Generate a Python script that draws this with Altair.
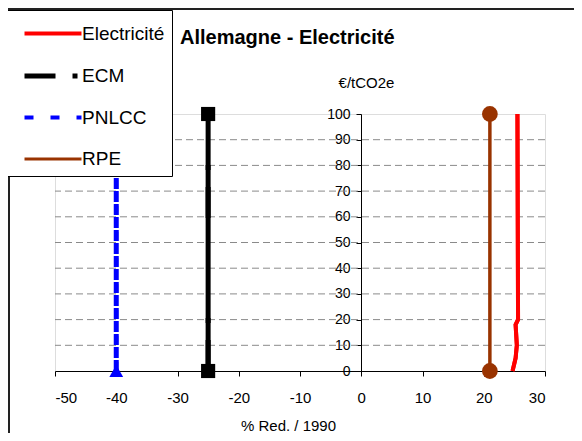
import altair as alt
import pandas as pd

FONT = "Liberation Sans"

# ---- data ----
series = ["Electricité", "ECM", "PNLCC", "RPE"]
colors = ["#FF0000", "#000000", "#0000FF", "#993300"]

elec_x = [24.7, 25.2, 25.4, 25.2, 25.6, 25.5]
elec_y = [0, 5, 10, 18, 20, 100]
ecm_x = [-25, -25]
ecm_y = [0, 100]
pnlcc_x = [-40, -40]
pnlcc_y = [0, 100]
rpe_x = [21, 21]
rpe_y = [0, 100]

x_ticks = [-50, -40, -30, -20, -10, 0, 10, 20, 30]
y_ticks = [0, 10, 20, 30, 40, 50, 60, 70, 80, 90, 100]
grid_y = [10, 20, 30, 40, 50, 60, 70, 80, 90]

# ---- tables ----
rows = []
for name, xs, ys in [("Electricité", elec_x, elec_y), ("ECM", ecm_x, ecm_y),
                     ("PNLCC", pnlcc_x, pnlcc_y), ("RPE", rpe_x, rpe_y)]:
    for i, (xv, yv) in enumerate(zip(xs, ys)):
        rows.append({"series": name, "x": xv, "y": yv, "idx": i})
df = pd.DataFrame(rows)

color_of = dict(zip(series, colors))
marker_series = ["ECM", "PNLCC", "RPE"]
mk = df[df.series.isin(marker_series)].copy()
mk["hex"] = mk.series.map(color_of)

grid_df = pd.DataFrame({"y": grid_y})
frame_df = pd.DataFrame({"a": [0]})

xscale = alt.Scale(domain=[-50, 30], nice=False, zero=False)
yscale = alt.Scale(domain=[0, 100], nice=False, zero=False)
color_scale = alt.Scale(domain=series, range=colors)
width_scale = alt.Scale(type="ordinal", domain=series, range=[4, 5, 4, 3])

xaxis = alt.Axis(values=x_ticks, labelExpr="'' + datum.value", grid=False,
                 labelOverlap=False,
                 domainColor="black", tickColor="black", tickSize=5,
                 labelFontSize=15, labelPadding=14, labelColor="black",
                 labelFont=FONT, title="% Red. / 1990", titleFont=FONT,
                 titleFontSize=15, titleFontWeight="normal", titleColor="black",
                 titleX=233, titleY=59, titleAlign="center",
                 titleBaseline="alphabetic")
yaxis = alt.Axis(values=y_ticks, grid=False, offset=-306, labelOverlap=False,
                 domainColor="black", tickColor="black", tickSize=5,
                 labelFontSize=14, labelPadding=6, labelColor="black",
                 labelFont=FONT, title="€/tCO2e", titleFont=FONT,
                 titleFontSize=15, titleFontWeight="normal", titleColor="black",
                 titleAngle=0, titleX=5, titleY=-27, titleAlign="center",
                 titleBaseline="alphabetic")

legend = alt.Legend(
    orient="none", legendX=-48, legendY=-104, title=None,
    symbolType="M-2,0H2", symbolSize=812, symbolOffset=22,
    labelFontSize=19, labelFont=FONT, labelColor="black", labelOffset=12,
    padding=7, rowPadding=15, fillColor="white", strokeColor="black",
)

X = alt.X("x:Q", scale=xscale, axis=xaxis)
Y = alt.Y("y:Q", scale=yscale, axis=yaxis)

frame = alt.Chart(frame_df).mark_rect(fillOpacity=0, stroke="#222222", strokeWidth=2).encode(
    x=alt.value(-46), x2=alt.value(600), y=alt.value(-105), y2=alt.value(400)
)

grid = alt.Chart(grid_df).mark_rule(color="#8a8a8a", strokeWidth=1, strokeDash=[7, 4]).encode(
    y=Y
)

# legend-carrying layer (covered by the real lines drawn on top)
legend_lines = alt.Chart(df).mark_line().encode(
    x=X, y=Y,
    color=alt.Color("series:N", scale=color_scale, legend=legend),
    strokeDash=alt.StrokeDash("series:N", scale=alt.Scale(domain=series, range=[[1, 0], [31, 17, 5, 100], [9, 17], [1, 0]]), legend=legend),
    strokeWidth=alt.StrokeWidth("series:N", scale=width_scale, legend=legend),
    order=alt.Order("idx:Q"),
    detail="series:N",
)

solid_lines = alt.Chart(df).transform_filter("datum.series !== 'PNLCC'").mark_line().encode(
    x=X, y=Y,
    color=alt.Color("series:N", scale=color_scale, legend=legend),
    strokeWidth=alt.StrokeWidth("series:N", scale=width_scale, legend=legend),
    order=alt.Order("idx:Q"),
    detail="series:N",
)

dashed_line = alt.Chart(df).transform_filter("datum.series === 'PNLCC'").mark_line(strokeDash=[11, 2]).encode(
    x=X, y=Y,
    color=alt.Color("series:N", scale=color_scale, legend=legend),
    strokeWidth=alt.value(5),
    order=alt.Order("idx:Q"),
)

points = alt.Chart(mk).mark_point(filled=True, opacity=1, strokeWidth=0).encode(
    x=X, y=Y,
    fill=alt.Fill("hex:N", scale=None),
    shape=alt.Shape("series:N", scale=alt.Scale(domain=marker_series, range=["square", "triangle-up", "circle"]), legend=None),
    size=alt.Size("series:N", scale=alt.Scale(type="ordinal", domain=marker_series, range=[200, 190, 250]), legend=None),
)

chart = alt.layer(frame, grid, legend_lines, solid_lines, dashed_line, points).properties(
    width=490, height=257,
    padding={"left": 47, "top": 106, "right": 29, "bottom": 62},
    autosize=alt.AutoSizeParams(type="none"),
    title=alt.TitleParams("Allemagne - Electricité", anchor="start", frame="group",
                          dx=125, dy=44, fontSize=20, fontWeight="bold", font=FONT,
                          color="black"),
).configure_view(stroke="#8c8c8c", strokeWidth=1.5).configure_axis(
    labelOverlap=False
).configure(font=FONT)

chart.save("out.html", embed_options={"renderer": "svg", "actions": False})
